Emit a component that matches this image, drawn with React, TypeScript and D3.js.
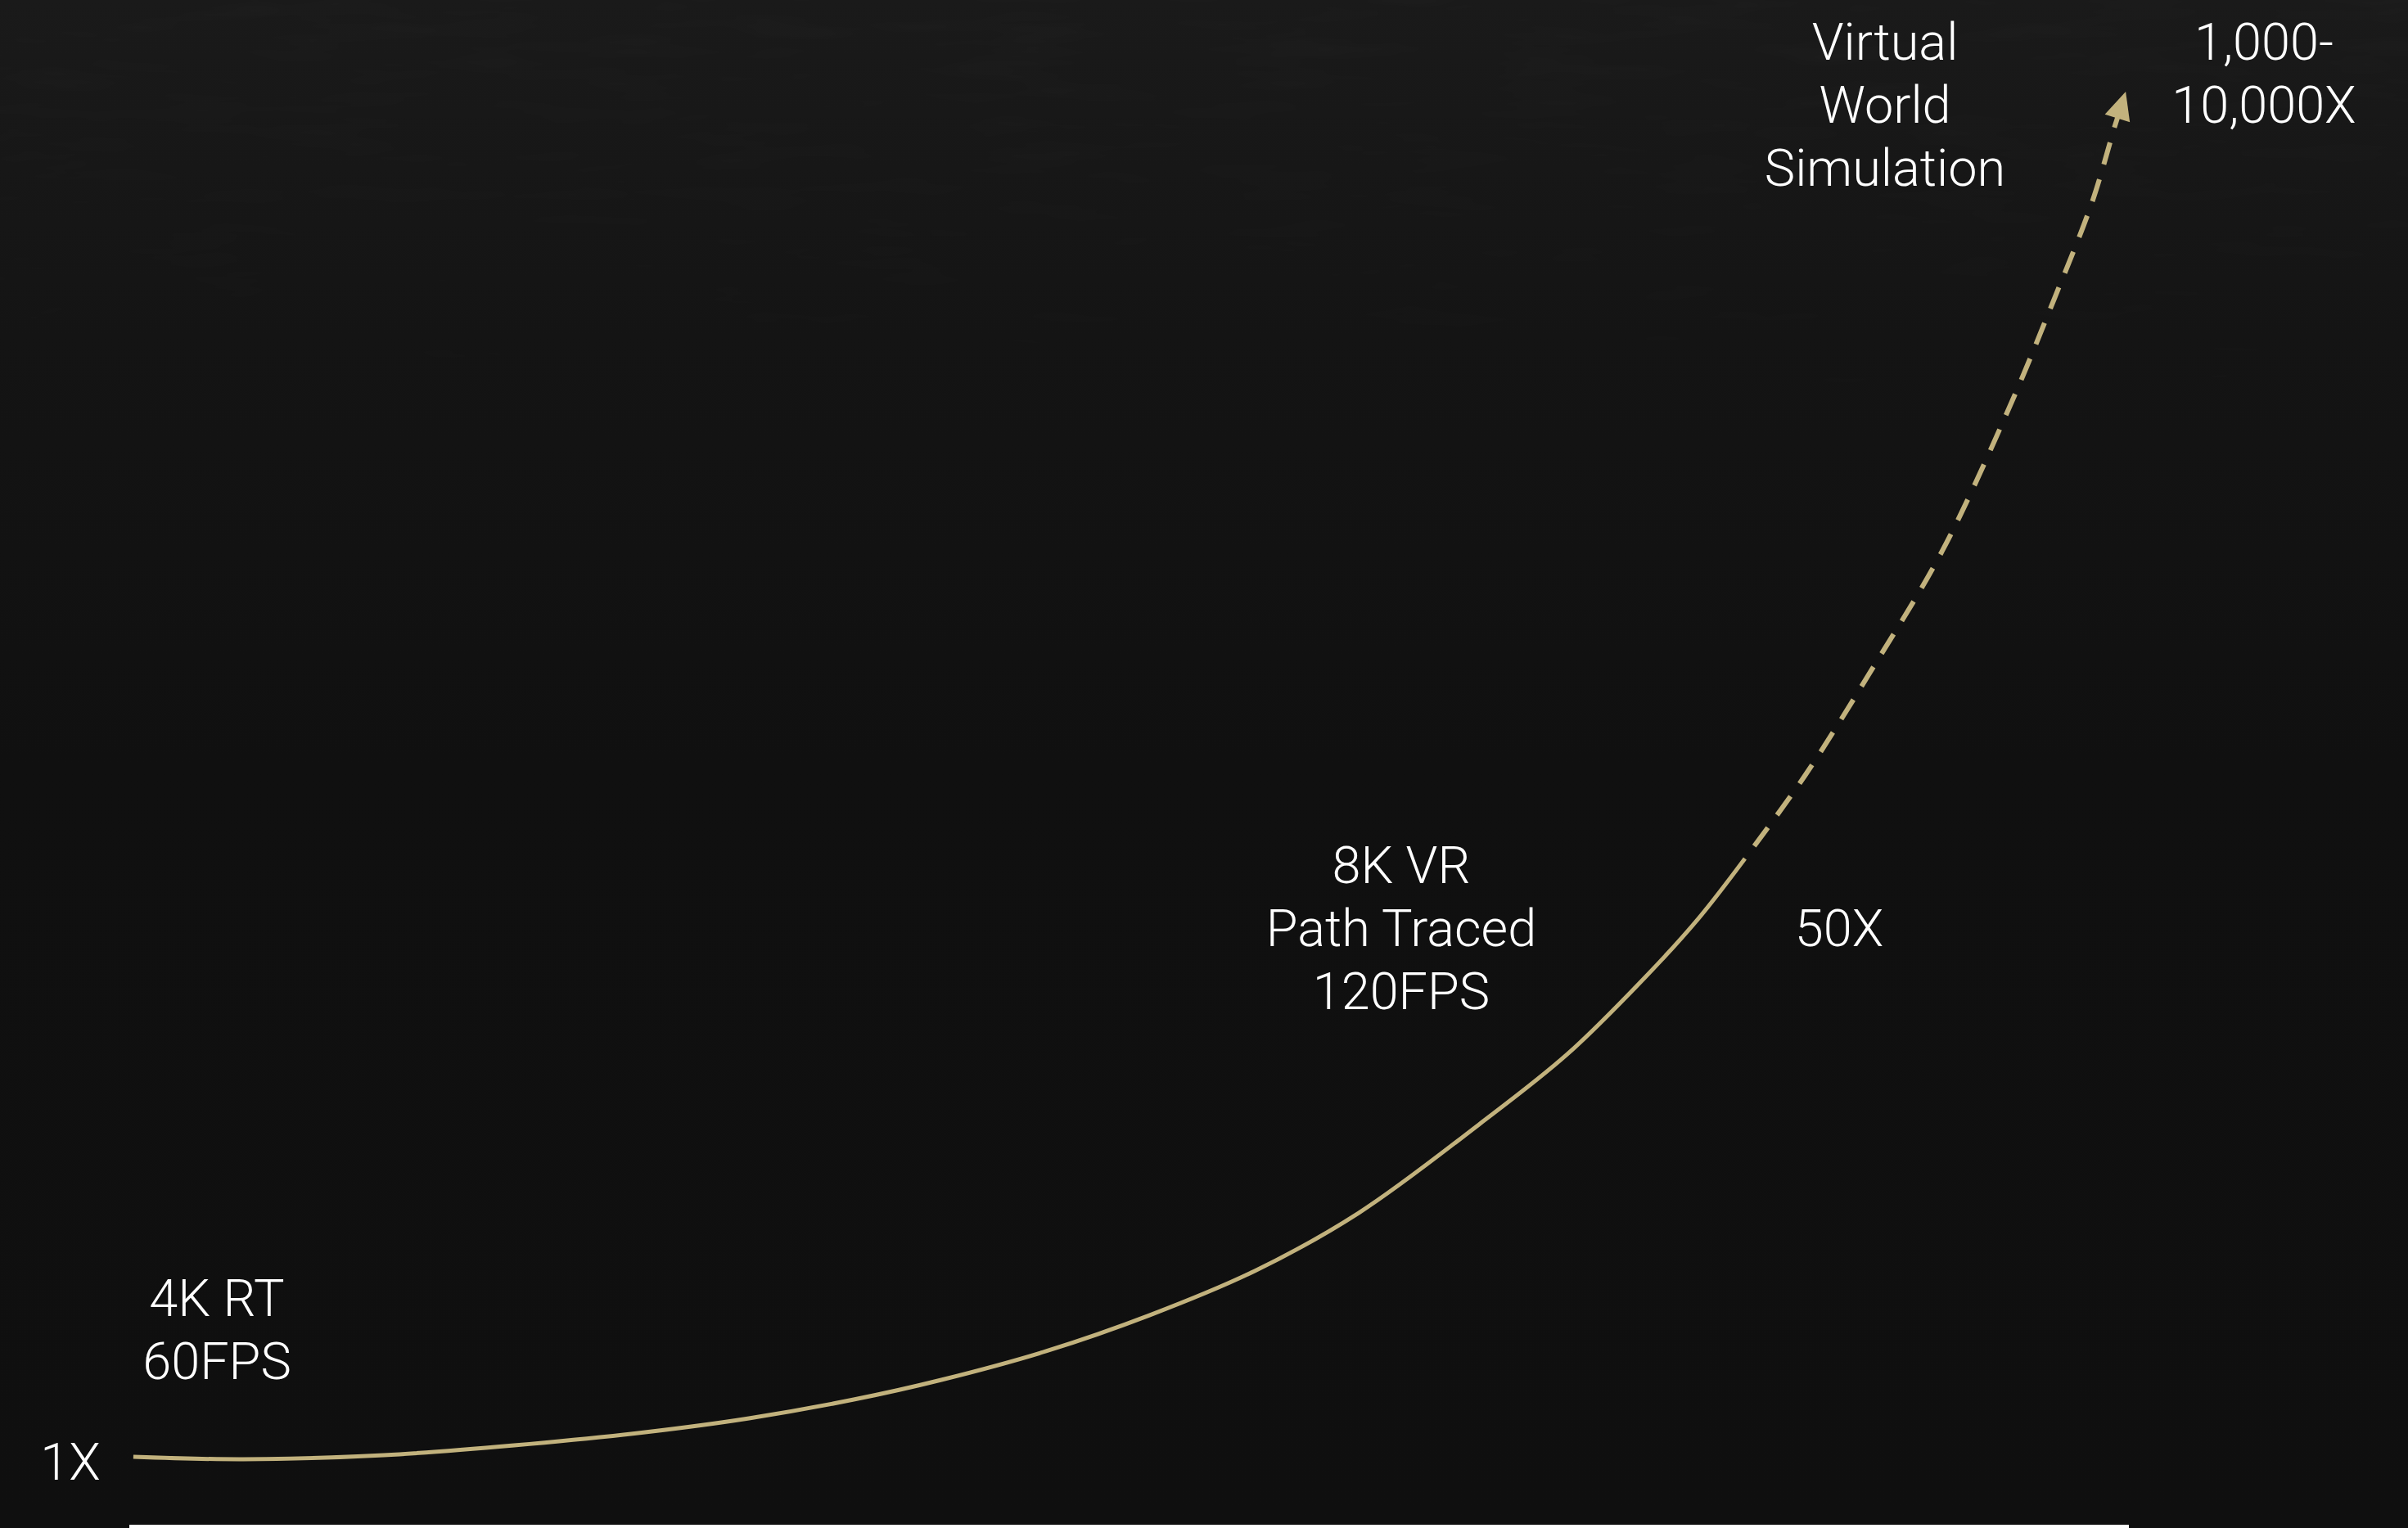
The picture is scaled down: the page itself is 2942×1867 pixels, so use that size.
import React from "react";
import * as d3 from "d3";

// ---- data (abstract progress units: x = time 0..100, y = relative compute 0..100) ----
const actualX = [0.2, 5.69, 12.73, 19.24, 25.79, 30.99, 36.23, 40.61, 45.85, 51.04, 56.28, 61.48, 67.5, 71.92, 75.85, 78.48, 80.8];
const actualY = [0.06, -0.12, 0.18, 0.9, 1.86, 2.88, 4.25, 5.69, 7.79, 10.43, 13.66, 17.91, 24.39, 29.54, 35.23, 39.48, 43.86];
const projectedX = [80.8, 83.79, 87.27, 90.67, 94.07, 96.27, 98.16, 99.26, 99.84];
const projectedY = [43.86, 49.91, 58.0, 66.39, 77.05, 84.84, 91.91, 97.3, 100];

const milestoneLabels = [
  ["4K RT", "60FPS"],
  ["8K VR", "Path Traced", "120FPS"],
  ["Virtual", "World", "Simulation"],
];
const multiplierLabels = [["1X"], ["50X"], ["1,000-", "10,000X"]];

// ---- layout ----
const W = 2942;
const H = 1867;
const GOLD = "#c2b27d";
const FONT = "Roboto, 'Noto Sans', sans-serif";
const FS = 63;
const LH = 77;

// label anchor positions (pixel layout)
const milestonePos = [
  { x: 265, y: 1608 },
  { x: 1712, y: 1079 },
  { x: 2303, y: 73 },
];
const multiplierPos = [
  { x: 86, y: 1808 },
  { x: 2247, y: 1156 },
  { x: 2766, y: 73 },
];

export default function App() {
  const x = d3.scaleLinear().domain([0, 100]).range([158, 2601]);
  const y = d3.scaleLinear().domain([0, 100]).range([1781, 112]);

  const line = d3
    .line<[number, number]>()
    .x((d) => x(d[0]))
    .y((d) => y(d[1]))
    .curve(d3.curveCatmullRom.alpha(0.5));

  const actual: [number, number][] = actualX.map((v, i) => [v, actualY[i]]);
  const projected: [number, number][] = projectedX.map((v, i) => [v, projectedY[i]]);

  // arrow head at the tip of the projected line
  const n = projected.length;
  const tip = [x(projected[n - 1][0]), y(projected[n - 1][1])];
  const prev = [x(projected[n - 2][0]), y(projected[n - 2][1])];
  const ang = Math.atan2(tip[1] - prev[1], tip[0] - prev[0]);
  const aLen = 34;
  const aHalf = 16;
  const bx = tip[0] - aLen * Math.cos(ang);
  const by = tip[1] - aLen * Math.sin(ang);
  const px = -Math.sin(ang);
  const py = Math.cos(ang);
  const arrow = `M${tip[0]},${tip[1]} L${bx + aHalf * px},${by + aHalf * py} L${bx - aHalf * px},${by - aHalf * py} Z`;

  // shorten the dashed path so it ends under the arrow base
  const projTrim: [number, number][] = projected.slice(0, n - 1);
  projTrim.push([x.invert(bx + 4 * Math.cos(ang)), y.invert(by + 4 * Math.sin(ang))]);

  const textBlock = (lines: string[], pos: { x: number; y: number }, key: string) => (
    <text
      key={key}
      x={pos.x}
      y={pos.y}
      textAnchor="middle"
      fill="#ffffff"
      fontFamily={FONT}
      fontWeight={300}
      fontSize={FS}
    >
      {lines.map((l, i) => (
        <tspan key={i} x={pos.x} y={pos.y + i * LH}>
          {l}
        </tspan>
      ))}
    </text>
  );

  return (
    <div style={{ position: "absolute", left: 0, top: 0, width: W, height: H, overflow: "hidden" }}>
      <svg width={W} height={H} viewBox={`0 0 ${W} ${H}`} style={{ display: "block" }}>
        <defs>
          <linearGradient id="bg" x1="0" y1="0" x2="0" y2="1">
            <stop offset="0" stopColor="#1a1a1a" />
            <stop offset="0.22" stopColor="#141414" />
            <stop offset="0.5" stopColor="#101010" />
            <stop offset="1" stopColor="#0f0f0f" />
          </linearGradient>
          <linearGradient id="fade" x1="0" y1="0" x2="0" y2="1">
            <stop offset="0" stopColor="#fff" stopOpacity="1" />
            <stop offset="0.35" stopColor="#fff" stopOpacity="0" />
          </linearGradient>
          <mask id="topMask">
            <rect x={0} y={0} width={W} height={H} fill="url(#fade)" />
          </mask>
          <filter id="grain" x="0" y="0" width="100%" height="100%">
            <feTurbulence type="fractalNoise" baseFrequency="0.006 0.04" numOctaves="3" seed="4" />
            <feColorMatrix type="matrix" values="0 0 0 0 1  0 0 0 0 1  0 0 0 0 1  0 0 0 0.6 -0.25" />
          </filter>
        </defs>
        <rect x={0} y={0} width={W} height={H} fill="url(#bg)" />
        <g mask="url(#topMask)" opacity={0.05}>
          <rect x={0} y={0} width={W} height={H} filter="url(#grain)" />
        </g>

        {/* baseline bar */}
        <rect x={x(0)} y={1863} width={x(100) - x(0)} height={4} fill="#ffffff" />

        {/* actual curve */}
        <path d={line(actual) || ""} fill="none" stroke={GOLD} strokeWidth={5} strokeLinecap="butt" />
        {/* projected dashed curve */}
        <path
          d={line(projTrim) || ""}
          fill="none"
          stroke={GOLD}
          strokeWidth={6}
          strokeDasharray="28 19"
          strokeDashoffset={28}
        />
        <path d={arrow} fill={GOLD} />

        {milestoneLabels.map((l, i) => textBlock(l, milestonePos[i], "m" + i))}
        {multiplierLabels.map((l, i) => textBlock(l, multiplierPos[i], "x" + i))}
      </svg>
    </div>
  );
}
